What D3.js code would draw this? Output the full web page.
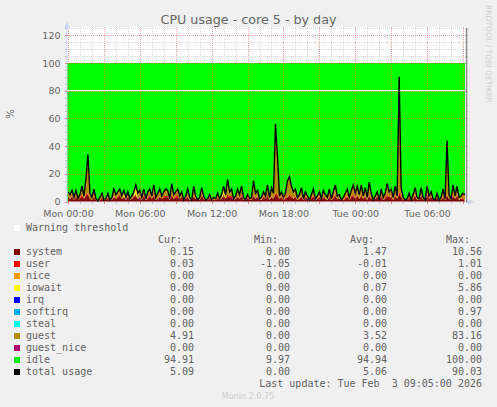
<!DOCTYPE html>
<html>
<head>
<meta charset="utf-8">
<script src="https://cdn.jsdelivr.net/npm/d3@7"></script>
<style>
	html, body { margin: 0; padding: 0; background: #f0f0f0; overflow: hidden; }
	svg { display: block; }
	text { font-family: "DejaVu Sans", sans-serif; fill: #666; }
	.mono { font-family: "DejaVu Sans Mono", monospace; font-size: 10px; fill: #626262; white-space: pre; }
</style>
</head>
<body>
<svg width="497" height="407"></svg>
<script>

// samples, one every 10 minutes from Mon 00:00
var total = [7,5,8,3,8,2,5,11,4,17,34,6,3,9,2,0.5,3,6,1,2,6,1,3,9,5,7,9,4,8,3,7,2,4,7,12,6,8,3,9,2,7,9,4,12,3,6,9,4,7,9,
	8,2,13,5,7,9,4,7,1,4,9,3,1,11,4,1,3,10,4,1,2,5,1,3,2,6,2,5,11,5,16,7,9,2,4,9,5,11,3,1,5,2,3,15,6,8,2,3,7,4,
	12,3,10,6,56,33,4,7,3,6,15,18,11,7,9,3,5,10,2,7,4,1,5,9,2,4,7,2,8,5,3,9,2,7,12,4,5,1,3,6,9,3,8,12,6,11,5,12,4,10,
	3,14,6,1,4,7,1,9,3,6,13,7,9,3,11,4,90,10,3,1,2,6,1,5,10,3,2,10,3,1,11,4,7,2,1,6,1,3,9,2,44,5,2,12,4,11,3,4,6,5];

var system = [3,2,3,1,3,1,2,4,2,4,5,2,1,3,1,0.5,1,2,1,1,2,1,1,3,2,3,4,2,3,1,3,1,2,3,4,2,3,1,4,1,2,4,2,4,1,2,3,2,3,3,
	3,1,4,2,3,3,2,3,1,2,3,1,1,3,2,1,1,4,2,1,1,2,1,1,1,2,1,2,4,2,4,3,3,1,2,3,2,4,1,1,2,1,1,4,2,3,1,1,3,2,
	4,1,3,2,5,4,2,3,1,2,3,4,3,2,3,1,2,3,1,3,2,1,2,3,1,2,3,1,3,2,1,3,1,2,4,2,2,1,1,2,3,1,3,4,2,4,2,4,2,3,
	1,4,2,1,2,3,1,3,1,2,4,3,3,1,4,2,5,3,1,1,1,2,1,2,4,1,1,4,1,1,4,2,3,1,1,2,1,1,3,1,4,2,1,4,2,4,1,2,2,0.15];

var user = [1,0,1,0,1,0,1,1,0,1,1,0,0,1,0,0,0,1,0,0,1,0,0,1,0,1,1,0,1,0,1,0,0,1,1,0,1,0,1,0,1,1,0,1,0,0,1,0,1,1,
	1,0,1,0,1,1,0,1,0,0,1,0,0,1,0,0,0,1,0,0,0,1,0,0,0,1,0,0,1,0,1,1,1,0,0,1,0,1,0,0,1,0,0,1,0,1,0,0,1,0,
	1,0,1,0,1,1,0,1,0,1,0,1,1,0,1,0,0,1,0,1,0,0,1,1,0,0,1,0,1,0,0,1,0,1,1,0,0,0,0,1,1,0,1,1,0,1,0,1,0,1,
	0,1,0,0,0,1,0,1,0,1,1,0,1,0,1,0,2,1,0,0,0,1,0,0,1,0,0,1,0,0,1,0,1,0,0,1,0,0,1,0,1,0,0,1,0,1,0,0,1,0];

var guest = [3,3,4,2,4,1,2,6,2,12,28,4,2,5,1,0,2,3,0,1,3,0,2,5,3,3,4,2,1,2,3,1,2,3,2,4,4,2,4,1,4,4,2,7,2,4,5,2,3,5,
	4,1,8,3,3,5,2,3,0,2,5,2,0,7,2,0,2,5,2,0,1,2,0,2,1,3,1,3,3,3,11,3,5,1,2,5,3,6,2,0,2,1,2,10,4,4,1,2,3,2,
	7,2,6,4,50,28,2,3,2,3,12,13,7,5,5,2,3,6,1,3,2,0,2,5,1,2,3,1,4,3,2,5,1,4,7,2,3,0,2,3,5,2,4,7,4,6,3,7,2,6,
	2,9,4,0,2,3,0,5,2,3,8,4,5,2,6,2,83,6,2,0,1,3,0,3,5,2,1,5,2,0,6,2,3,1,0,3,0,2,5,1,39,3,1,7,2,6,2,2,3,4.85];

var idle = [93,95,92,97,92,98,95,89,96,83,66,94,97,91,98,99.5,97,94,99,98,94,99,97,91,95,93,91,96,92,97,93,98,96,93,88,94,92,97,91,98,93,91,96,88,97,94,91,96,93,91,
	92,98,87,95,93,91,96,93,99,96,91,97,99,89,96,99,97,90,96,99,98,95,99,97,98,94,98,95,89,95,84,93,91,98,96,91,95,89,97,99,95,98,97,85,94,92,98,97,93,96,
	88,97,90,94,44,67,96,93,97,94,85,82,89,93,91,97,95,90,98,93,96,99,95,91,98,96,93,98,92,95,97,91,98,93,88,96,95,99,97,94,91,97,92,88,94,89,95,88,96,90,
	97,86,94,99,96,93,99,91,97,94,87,93,91,97,89,96,10,90,97,99,98,94,99,95,90,97,98,90,97,99,89,96,93,98,99,94,99,97,91,98,56,95,98,88,96,89,97,96,94,95];

// iowait only shows at a few samples: [sample index, value]
var iowaitSpots = [[28,3],[34,5],[78,3]];

var names = ["system","user","nice","iowait","irq","softirq","steal","guest","guest_nice","idle","total usage"];
var colors = ["#7e0000","#ff0000","#ff9900","#ffff00","#0000ff","#00aaff","#00ffff","#b38f00","#b00070","#00ff00","#000000"];
var cur = ["0.15","0.03","0.00","0.00","0.00","0.00","0.00","4.91","0.00","94.91","5.09"];
var min = ["0.00","-1.05","0.00","0.00","0.00","0.00","0.00","0.00","0.00","9.97","0.00"];
var avg = ["1.47","-0.01","0.00","0.07","0.00","0.00","0.00","3.52","0.00","94.94","5.06"];
var max = ["10.56","1.01","0.00","5.86","0.00","0.97","0.00","83.16","0.00","100.00","90.03"];

var yTicks = [0,20,40,60,80,100,120];
var warning = 80;

var start = new Date(2026, 1, 2, 0, 0);
var hour = 3600000;
var times = total.map(function(d, i) { return new Date(+start + i * hour / 6); });

var x = d3.scaleTime()
	.domain([new Date(+start - hour / 12), new Date(+start + 33.25 * hour)])
	.range([67, 466]);
var y = d3.scaleLinear().domain([0, 126]).range([201.5, 27]);

var rows = total.map(function(d, i) {
	var io = iowaitSpots.filter(function(s) { return s[0] == i; });
	return {
		system: system[i], user: user[i], nice: 0, iowait: io.length ? io[0][1] : 0,
		irq: 0, softirq: 0, steal: 0, guest: guest[i], guest_nice: 0, idle: idle[i], date: times[i]
	};
});

var svg = d3.select("svg");

svg.append("text").attr("x", 248.5).attr("y", 24).attr("text-anchor", "middle")
	.style("font-size", "12.7px").text("CPU usage - core 5 - by day");
svg.append("text").attr("transform", "translate(14,114) rotate(-90)").attr("text-anchor", "middle")
	.style("font-size", "10px").text("%");
svg.append("text").attr("transform", "translate(485.5,5) rotate(90)")
	.style("font-size", "7.6px").style("fill", "#cfcfcf").text("RRDTOOL / TOBI OETIKER");
svg.append("text").attr("x", 248).attr("y", 399).attr("text-anchor", "middle")
	.style("font-size", "8px").style("fill", "#cfcfcf").text("Munin 2.0.75");

svg.append("rect").attr("x", 67).attr("y", 27).attr("width", 399).attr("height", 174.5).attr("fill", "#fff");

svg.append("clipPath").attr("id", "plot").append("rect")
	.attr("x", 67).attr("y", 27).attr("width", 399).attr("height", 175);

var plot = svg.append("g").attr("clip-path", "url(#plot)");

// the first sample sits one pixel in from the left edge
plot.append("rect").attr("x", 67).attr("y", y(100)).attr("width", 1.5).attr("height", y(0) - y(100)).attr("fill", "#00ff00");

// stacked areas
var stack = d3.stack().keys(names.slice(0, 10));
var area = d3.area()
	.x(function(d) { return x(d.data.date); })
	.y0(function(d) { return y(d[0]); })
	.y1(function(d) { return y(d[1]); });

plot.selectAll("path.band")
	.data(stack(rows))
	.enter().append("path")
	.attr("class", "band")
	.attr("fill", function(d, i) { return colors[i]; })
	.attr("d", area);

// grid goes over the areas, like rrdtool does. minor lines vanish on the green
var grid = svg.append("g");
var hours = d3.timeHour.every(1).range(x.domain()[0], x.domain()[1]);
grid.selectAll("line.vminor")
	.data(hours)
	.enter().append("line")
	.attr("x1", function(d) { return Math.round(x(d)) + 0.5; })
	.attr("x2", function(d) { return Math.round(x(d)) + 0.5; })
	.attr("y1", 27)
	.attr("y2", function(d) { return d.getHours() % 3 == 0 ? 201.5 : y(100); })
	.attr("stroke", function(d) { return d.getHours() % 3 == 0 ? "rgba(225,70,70,0.5)" : "rgba(0,0,0,0.15)"; })
	.attr("stroke-dasharray", "1,1");
var fives = d3.range(0, 126, 5);
grid.selectAll("line.hminor")
	.data(fives.filter(function(d) { return d % 20 == 0 || d > 100; }))
	.enter().append("line")
	.attr("x1", 67).attr("x2", 466)
	.attr("y1", function(d) { return Math.round(y(d)) + 0.5; })
	.attr("y2", function(d) { return Math.round(y(d)) + 0.5; })
	.attr("stroke", function(d) { return d % 20 == 0 ? "rgba(225,70,70,0.5)" : "rgba(0,0,0,0.15)"; })
	.attr("stroke-dasharray", "1,1");

plot.append("line")
	.attr("x1", 67).attr("x2", 466)
	.attr("y1", y(warning)).attr("y2", y(warning))
	.attr("stroke", "#fff").attr("stroke-width", 1.2);

var line = d3.line()
	.x(function(d) { return x(d.date); })
	.y(function(d) { return y(d.value); });
plot.append("path")
	.datum(total.map(function(d, i) { return { date: times[i], value: d }; }))
	.attr("fill", "none").attr("stroke", "#000").attr("stroke-width", 1.4)
	.attr("d", line);

// axes
var yAxis = d3.axisLeft(y).tickValues(yTicks).tickSize(0).tickPadding(6);
var gy = svg.append("g").attr("transform", "translate(66.5,0)").call(yAxis);
gy.select(".domain").attr("stroke", "#c8d0f0");
gy.selectAll("text").style("font-size", "9.5px").style("font-family", "'DejaVu Sans'").style("fill", "#666");

var xTicks = d3.timeHour.every(6).range(x.domain()[0], x.domain()[1]);
var xAxis = d3.axisBottom(x).tickValues(xTicks).tickFormat(d3.timeFormat("%a %H:%M")).tickSize(0).tickPadding(8);
var gx = svg.append("g").attr("transform", "translate(0,202)").call(xAxis);
gx.select(".domain").attr("stroke", "#e8e8e8");
gx.selectAll("text").style("font-size", "9.5px").style("font-family", "'DejaVu Sans'").style("fill", "#666");

// little tick marks on both sides and under the plot
svg.selectAll("line.ytick")
	.data(fives)
	.enter().append("line")
	.attr("x1", 65).attr("x2", 67)
	.attr("y1", function(d) { return Math.round(y(d)) + 0.5; })
	.attr("y2", function(d) { return Math.round(y(d)) + 0.5; })
	.attr("stroke", function(d) { return d % 20 == 0 ? "#e08080" : "#c4c4c4"; });
svg.selectAll("line.rtick")
	.data(fives)
	.enter().append("line")
	.attr("x1", 466).attr("x2", 468)
	.attr("y1", function(d) { return Math.round(y(d)) + 0.5; })
	.attr("y2", function(d) { return Math.round(y(d)) + 0.5; })
	.attr("stroke", "#c4c4c4");
svg.selectAll("line.xtick")
	.data(hours)
	.enter().append("line")
	.attr("x1", function(d) { return Math.round(x(d)) + 0.5; })
	.attr("x2", function(d) { return Math.round(x(d)) + 0.5; })
	.attr("y1", 202).attr("y2", 204)
	.attr("stroke", function(d) { return d.getHours() % 3 == 0 ? "#e08080" : "#c4c4c4"; });

svg.append("line").attr("x1", 466.5).attr("x2", 466.5).attr("y1", 28).attr("y2", 202)
	.attr("stroke", "#8c8c8c").attr("stroke-width", 1.5);
svg.append("path").attr("d", "M64,28L70,28L67,22Z").attr("fill", "#cdd5f5");
svg.append("path").attr("d", "M468,199L468,205L474,202Z").attr("fill", "#cdd5f5");

// legend
svg.append("rect").attr("x", 14).attr("y", 225).attr("width", 6).attr("height", 6).attr("fill", "#fff");
svg.append("text").attr("class", "mono").attr("x", 26).attr("y", 231).text("Warning threshold");

var headers = [["Cur:", 182], ["Min:", 278], ["Avg:", 374], ["Max:", 470]];
svg.selectAll("text.head")
	.data(headers)
	.enter().append("text")
	.attr("class", "mono head")
	.attr("x", function(d) { return d[1]; })
	.attr("y", 243)
	.attr("text-anchor", "end")
	.text(function(d) { return d[0]; });

var legend = svg.selectAll("g.row")
	.data(names)
	.enter().append("g")
	.attr("class", "row")
	.attr("transform", function(d, i) { return "translate(0," + (252 + i * 12) + ")"; });

legend.append("rect").attr("x", 14).attr("y", -3).attr("width", 6).attr("height", 6)
	.attr("fill", function(d, i) { return colors[i]; });
legend.append("text").attr("class", "mono").attr("x", 26).attr("y", 3).text(function(d) { return d; });

[[cur, 194], [min, 290], [avg, 387], [max, 482]].forEach(function(col) {
	legend.append("text")
		.attr("class", "mono")
		.attr("x", col[1])
		.attr("y", 3)
		.attr("text-anchor", "end")
		.text(function(d, i) { return col[0][i]; });
});

svg.append("text").attr("class", "mono").attr("x", 482).attr("y", 387).attr("text-anchor", "end")
	.text("Last update: Tue Feb  3 09:05:00 2026");

</script>
</body>
</html>
